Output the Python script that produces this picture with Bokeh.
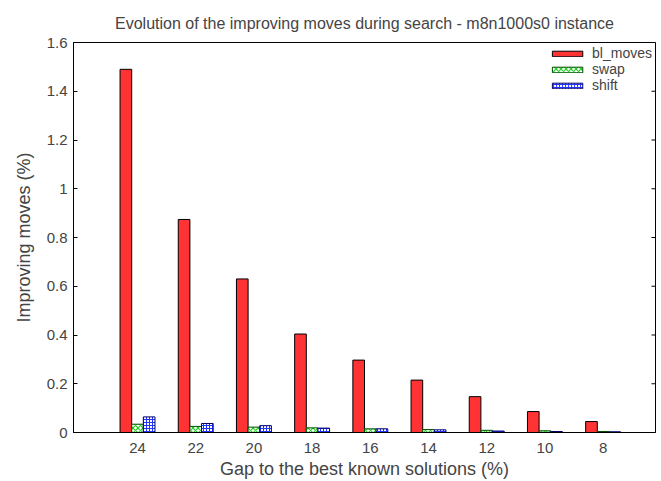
import math
from bokeh.plotting import figure
from bokeh.models import ColumnDataSource, Range1d, FixedTicker, Legend, LegendItem
from bokeh.transform import dodge
from bokeh.embed import file_html
from bokeh.resources import INLINE

# ---- data ----
gaps = ["24", "22", "20", "18", "16", "14", "12", "10", "8"]
bl_moves = [1.49, 0.874, 0.63, 0.404, 0.297, 0.215, 0.147, 0.086, 0.045]
swap = [0.034, 0.025, 0.022, 0.019, 0.015, 0.012, 0.009, 0.007, 0.004]
shift = [0.064, 0.037, 0.028, 0.018, 0.015, 0.011, 0.006, 0.004, 0.003]
y_ticks = [0, 0.2, 0.4, 0.6, 0.8, 1.0, 1.2, 1.4, 1.6]
y_tick_labels = ["0", "0.2", "0.4", "0.6", "0.8", "1", "1.2", "1.4", "1.6"]

FONT = "Liberation Sans"
X_LO, X_HI = -1.1, 8.9

pos = list(range(len(gaps)))
src = ColumnDataSource(dict(pos=pos, bl=bl_moves, swap=swap, shift=shift))

p = figure(width=661, height=481, output_backend="svg", toolbar_location=None,
           x_range=Range1d(X_LO, X_HI), y_range=Range1d(y_ticks[0], y_ticks[-1]),
           min_border_left=73, min_border_right=6, min_border_top=42, min_border_bottom=49,
           title="Evolution of the improving moves during search - m8n1000s0 instance")

p.title.align = "center"
p.title.text_font = FONT
p.title.text_font_size = "16px"
p.title.text_font_style = "normal"
p.title.standoff = 22

p.grid.visible = False
p.outline_line_color = "black"
p.outline_line_width = 1
p.background_fill_color = "white"
p.border_fill_color = "white"

r1 = p.vbar(x=dodge("pos", -0.2, range=p.x_range), top="bl", width=0.2, source=src,
            fill_color="#ff3333", line_color="black", line_width=1)
r2 = p.vbar(x=dodge("pos", 0.0, range=p.x_range), top="swap", width=0.2, source=src,
            fill_color="white", line_color="#004d00", line_width=1,
            hatch_pattern="diagonal_cross", hatch_color="#22cc22", hatch_scale=5, hatch_weight=1.2)
r3 = p.vbar(x=dodge("pos", 0.2, range=p.x_range), top="shift", width=0.2, source=src,
            fill_color="white", line_color="#000066", line_width=1,
            hatch_pattern="cross", hatch_color="#2233ff", hatch_scale=3, hatch_weight=1)

# mirrored (inward) ticks on the right border
p.ray(x=[X_HI] * len(y_ticks), y=y_ticks, length=4, length_units="screen",
      angle=math.pi, line_color="black", line_width=1)

# x axis
xa = p.xaxis[0]
xa.ticker = FixedTicker(ticks=pos)
xa.major_label_overrides = {i: g for i, g in zip(pos, gaps)}
xa.major_tick_line_color = None
xa.minor_tick_line_color = None
xa.axis_line_color = "black"
xa.major_label_text_font = FONT
xa.major_label_text_font_size = "15px"
xa.major_label_standoff = 4
xa.axis_label = "Gap to the best known solutions (%)"
xa.axis_label_text_font = FONT
xa.axis_label_text_font_size = "18px"
xa.axis_label_text_font_style = "normal"
xa.axis_label_standoff = 3

# y axis
ya = p.yaxis[0]
ya.ticker = FixedTicker(ticks=y_ticks)
ya.major_label_overrides = {t: l for t, l in zip(y_ticks, y_tick_labels)}
ya.major_tick_in = 4
ya.major_tick_out = 0
ya.minor_tick_line_color = None
ya.major_label_text_font = FONT
ya.major_label_text_font_size = "15px"
ya.major_label_standoff = 6
ya.axis_label = "Improving moves (%)"
ya.axis_label_text_font = FONT
ya.axis_label_text_font_size = "18px"
ya.axis_label_text_font_style = "normal"
ya.axis_label_standoff = 10

legend = Legend(items=[LegendItem(label="bl_moves", renderers=[r1]),
                       LegendItem(label="swap", renderers=[r2]),
                       LegendItem(label="shift", renderers=[r3])],
                location="top_right", border_line_color=None, background_fill_alpha=0,
                label_text_font=FONT, label_text_font_size="14px",
                glyph_width=38, glyph_height=7, label_height=12, spacing=0,
                padding=0, margin=3, label_standoff=6)
p.add_layout(legend)

open("out.html", "w").write(file_html(p, INLINE))
